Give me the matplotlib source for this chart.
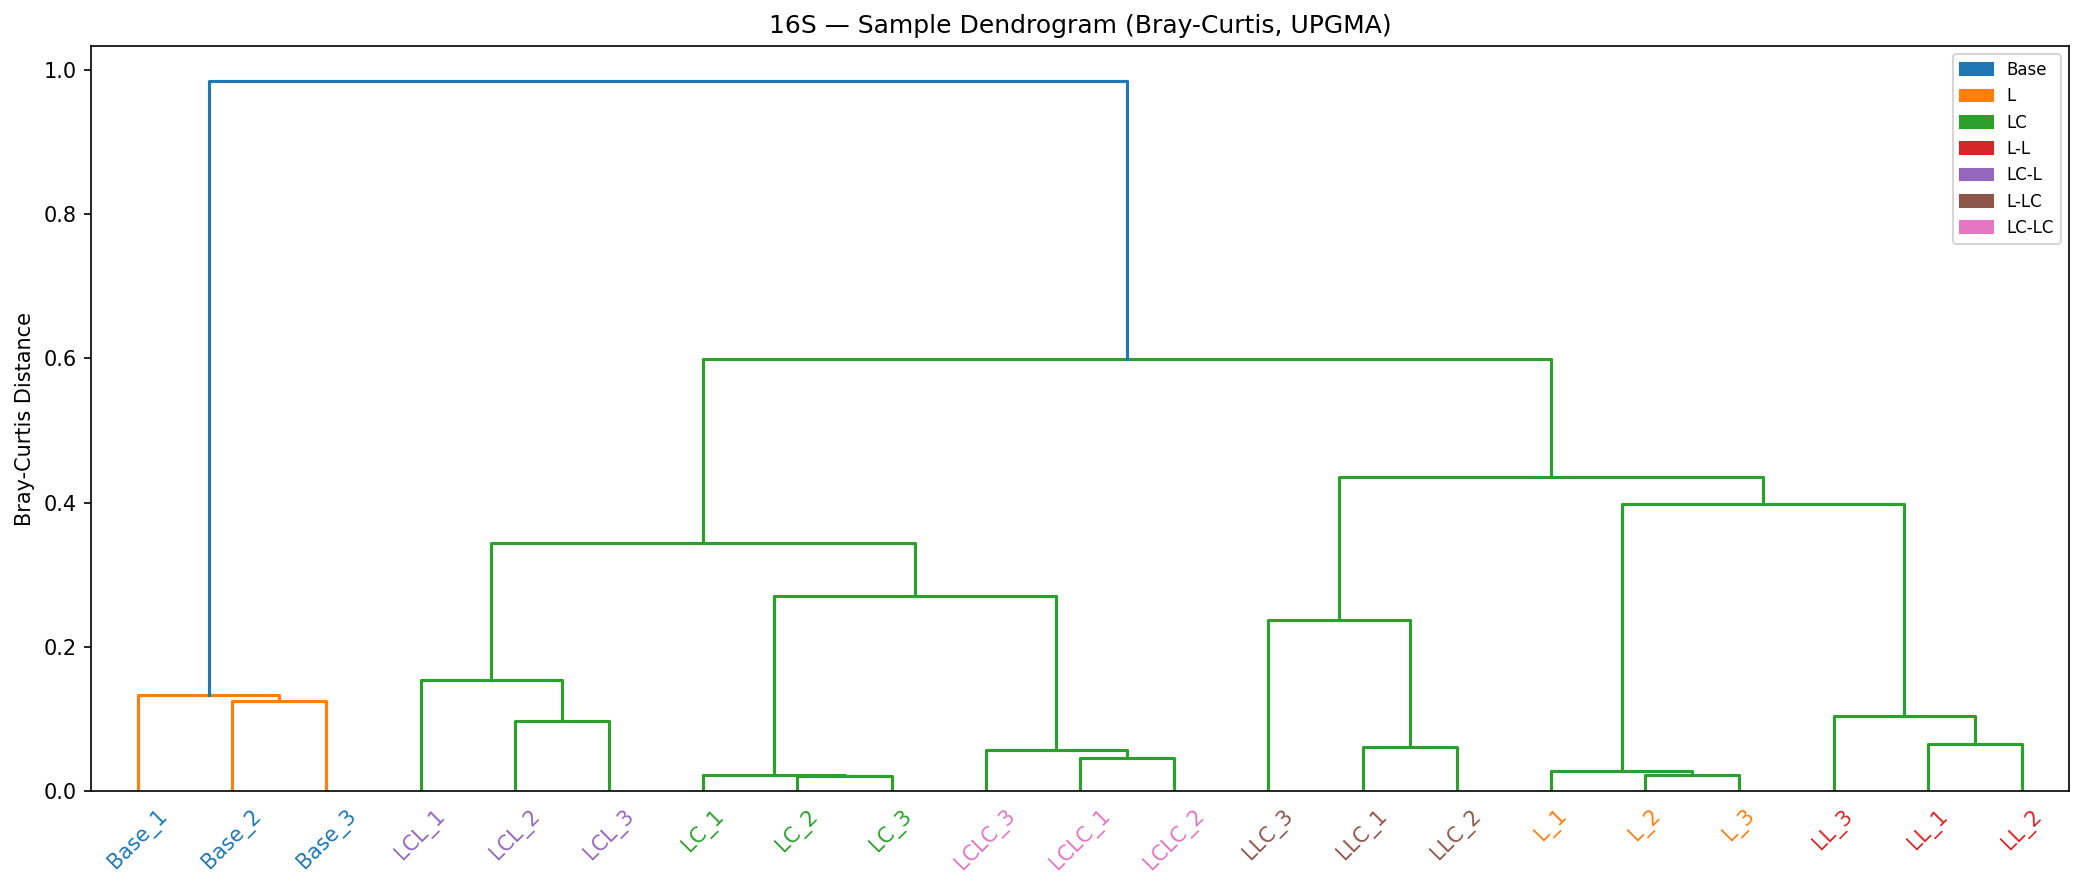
import numpy as np
import matplotlib
matplotlib.use("Agg")
import matplotlib.pyplot as plt
from matplotlib.patches import Patch

# leaves in dendrogram order
leaf_labels = ['Base_1', 'Base_2', 'Base_3', 'LCL_1', 'LCL_2', 'LCL_3',
               'LC_1', 'LC_2', 'LC_3', 'LCLC_3', 'LCLC_1', 'LCLC_2',
               'LLC_3', 'LLC_1', 'LLC_2', 'L_1', 'L_2', 'L_3',
               'LL_3', 'LL_1', 'LL_2']
leaf_groups = ['Base', 'Base', 'Base', 'LC-L', 'LC-L', 'LC-L',
               'LC', 'LC', 'LC', 'LC-LC', 'LC-LC', 'LC-LC',
               'L-LC', 'L-LC', 'L-LC', 'L', 'L', 'L',
               'L-L', 'L-L', 'L-L']

# linkage (UPGMA, Bray-Curtis): new clusters numbered from 21
merge_left = [7, 6, 16, 15, 10, 9, 13, 19, 4, 18, 1, 0, 3, 12, 22, 33, 24, 34, 36, 32]
merge_right = [8, 21, 17, 23, 11, 25, 14, 20, 5, 28, 2, 31, 29, 27, 26, 35, 30, 37, 38, 39]
merge_height = [0.0203, 0.0222, 0.0225, 0.028, 0.0453, 0.0568, 0.061, 0.0647,
                0.097, 0.1045, 0.125, 0.1326, 0.1534, 0.237, 0.2698, 0.3433,
                0.398, 0.435, 0.599, 0.984]

group_names = ['Base', 'L', 'LC', 'L-L', 'LC-L', 'L-LC', 'LC-LC']
group_colors = ['C0', 'C1', 'C2', 'C3', 'C4', 'C5', 'C6']


def node_positions(n_leaves, left, right, height):
    """ x and height for every node, leaves at 5, 15, 25 ..."""
    xs = [5 + 10 * i for i in range(n_leaves)]
    hs = [0.0] * n_leaves
    for a, b, h in zip(left, right, height):
        xs.append((xs[a] + xs[b]) / 2)
        hs.append(h)
    return xs, hs


def link_colors(n_leaves, left, right, height, threshold):
    """ colour each link like scipy: clusters under threshold get C1, C2 ..."""
    n = n_leaves + len(left)
    children = {n_leaves + i: (left[i], right[i]) for i in range(len(left))}
    hgt = {n_leaves + i: height[i] for i in range(len(left))}
    colors = {}
    palette = iter(['C1', 'C2', 'C3', 'C4', 'C5', 'C6', 'C7', 'C8', 'C9'])

    def paint(node, col):
        if node in children:
            colors[node] = col
            for c in children[node]:
                paint(c, col)

    def walk(node):
        if node not in children:
            return
        if hgt[node] > threshold:
            colors[node] = 'C0'
            for c in children[node]:
                walk(c)
        else:
            paint(node, next(palette))

    walk(n - 1)
    return colors


n_leaves = len(leaf_labels)
xs, hs = node_positions(n_leaves, merge_left, merge_right, merge_height)
colors = link_colors(n_leaves, merge_left, merge_right, merge_height,
                     0.7 * max(merge_height))

fig = plt.figure(figsize=(2084 / 150, 882 / 150), dpi=150)
ax = fig.add_subplot(111)
fig.subplots_adjust(left=91 / 2084, right=2069 / 2084,
                    top=1 - 46 / 882, bottom=1 - 791 / 882)

for i, (a, b, h) in enumerate(zip(merge_left, merge_right, merge_height)):
    node = n_leaves + i
    ax.plot([xs[a], xs[a], xs[b], xs[b]], [hs[a], h, h, hs[b]],
            color=colors[node], linewidth=1.5)

ax.set_xlim(0, 10 * n_leaves)
ax.set_ylim(0, max(merge_height) * 1.05)
ax.set_xticks(xs[:n_leaves])
ax.set_xticklabels(leaf_labels, rotation=45)
for line in ax.get_xticklines():
    line.set_visible(False)

color_of = dict(zip(group_names, group_colors))
for lbl, grp in zip(ax.get_xticklabels(), leaf_groups):
    lbl.set_color(color_of[grp])

ax.set_title('16S — Sample Dendrogram (Bray-Curtis, UPGMA)')
ax.set_ylabel('Bray-Curtis Distance')

handles = [Patch(color=c, label=g) for g, c in zip(group_names, group_colors)]
ax.legend(handles=handles, loc='upper right', fontsize=8)

fig.savefig('out.png', dpi=150)
